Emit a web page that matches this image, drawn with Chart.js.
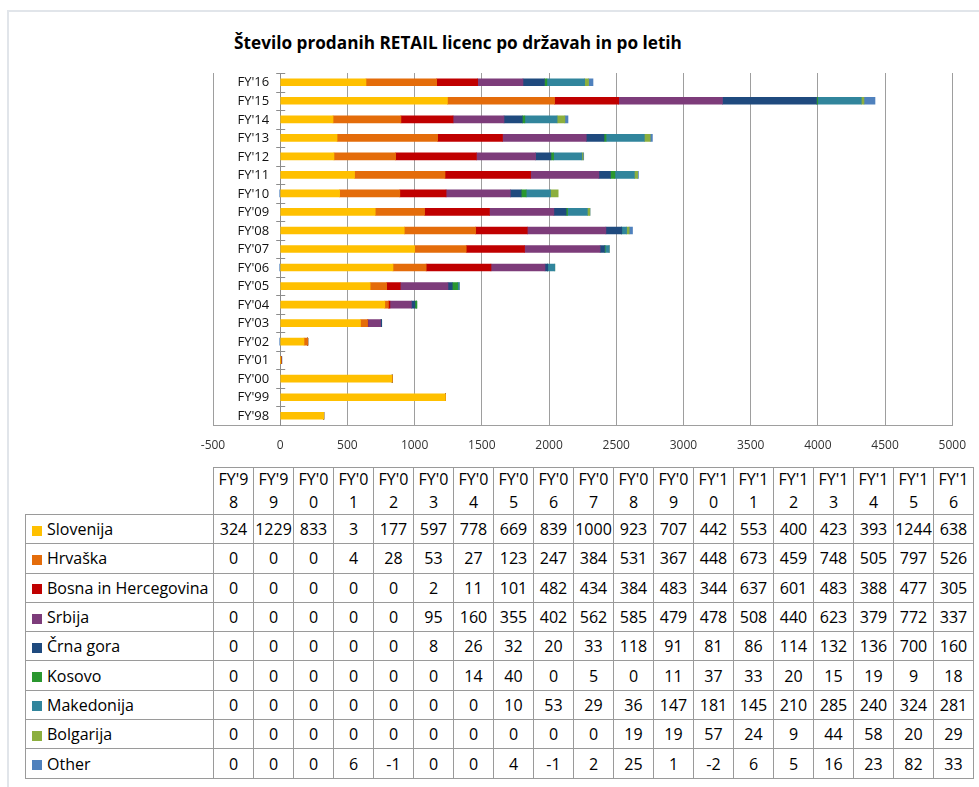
<!DOCTYPE html>
<html>
<head>
<meta charset="utf-8">
<script src="https://cdn.jsdelivr.net/npm/chart.js@4.4.1/dist/chart.umd.min.js"></script>
<style>
  body { margin: 0; background: #fff; font-family: "Open Sans", sans-serif; }
  #frame { position: absolute; left: 7px; top: 10px; width: 1000px; height: 800px;
           border-left: 2px solid #e1e5ea; border-top: 2px solid #e1e5ea; }
  #title { position: absolute; left: 0; width: 916px; top: 31px; line-height: 23px;
           text-align: center; font-weight: bold; font-size: 17.2px; color: #000; }
  #chart { position: absolute; left: 0; top: 0; }
  #tbl { position: absolute; left: 25px; top: 467px; border-collapse: collapse;
         table-layout: fixed; font-size: 16px; color: #000; }
  #tbl td { border: 1px solid #9a9a9a; padding: 0; text-align: center; white-space: nowrap; overflow: hidden; }
  #tbl tr.head td { height: 45px; line-height: 23px; }
  #tbl tr.row td { height: 28.3px; line-height: 28px; }
  #tbl td.corner { border: none; }
  #tbl td.name { text-align: left; }
  .sw { display: inline-block; width: 10px; height: 10px; margin: 0 5px 0 6px; vertical-align: -0.5px; }
</style>
</head>
<body>
<div id="frame"></div>
<div id="title">Število prodanih RETAIL licenc po državah in po letih</div>
<canvas id="chart" width="979" height="460"></canvas>
<table id="tbl"></table>
<script>
const years = ["FY'98", "FY'99", "FY'00", "FY'01", "FY'02", "FY'03", "FY'04", "FY'05", "FY'06", "FY'07",
               "FY'08", "FY'09", "FY'10", "FY'11", "FY'12", "FY'13", "FY'14", "FY'15", "FY'16"];

const slovenija  = [324, 1229, 833, 3, 177, 597, 778, 669, 839, 1000, 923, 707, 442, 553, 400, 423, 393, 1244, 638];
const hrvaska    = [0, 0, 0, 4, 28, 53, 27, 123, 247, 384, 531, 367, 448, 673, 459, 748, 505, 797, 526];
const bih        = [0, 0, 0, 0, 0, 2, 11, 101, 482, 434, 384, 483, 344, 637, 601, 483, 388, 477, 305];
const srbija     = [0, 0, 0, 0, 0, 95, 160, 355, 402, 562, 585, 479, 478, 508, 440, 623, 379, 772, 337];
const crnaGora   = [0, 0, 0, 0, 0, 8, 26, 32, 20, 33, 118, 91, 81, 86, 114, 132, 136, 700, 160];
const kosovo     = [0, 0, 0, 0, 0, 0, 14, 40, 0, 5, 0, 11, 37, 33, 20, 15, 19, 9, 18];
const makedonija = [0, 0, 0, 0, 0, 0, 0, 10, 53, 29, 36, 147, 181, 145, 210, 285, 240, 324, 281];
const bolgarija  = [0, 0, 0, 0, 0, 0, 0, 0, 0, 0, 19, 19, 57, 24, 9, 44, 58, 20, 29];
const other      = [0, 0, 0, 6, -1, 0, 0, 4, -1, 2, 25, 1, -2, 6, 5, 16, 23, 82, 33];

const seriesNames = ["Slovenija", "Hrvaška", "Bosna in Hercegovina", "Srbija", "Črna gora",
                     "Kosovo", "Makedonija", "Bolgarija", "Other"];
const seriesValues = [slovenija, hrvaska, bih, srbija, crnaGora, kosovo, makedonija, bolgarija, other];
const seriesColors = ["#FFC000", "#E46C0A", "#C00000", "#7D3C7A", "#1F4A7E",
                      "#2A972F", "#31859C", "#8CAF3E", "#4F81BD"];

const xMin = -500, xMax = 5000, xStep = 500;

// Excel style category axis at x = 0: cross tick marks and labels left of it
const catAxis = {
  id: "catAxis",
  afterDraw(chart) {
    const { ctx, scales: { x, y } } = chart;
    const x0 = x.getPixelForValue(0);
    const band = Math.abs(y.getPixelForValue(1) - y.getPixelForValue(0));
    ctx.save();
    ctx.strokeStyle = "#8c8c8c";
    ctx.lineWidth = 1;
    for (let i = 0; i < years.length; i++) {
      const yy = Math.round(y.getPixelForValue(i) - band / 2) + 0.5;
      ctx.beginPath();
      ctx.moveTo(x0 - 4, yy);
      ctx.lineTo(x0 + 5, yy);
      ctx.stroke();
    }
    ctx.fillStyle = "#111";
    ctx.font = "13px 'Open Sans'";
    ctx.textAlign = "right";
    ctx.textBaseline = "middle";
    for (let i = 0; i < years.length; i++) {
      ctx.fillText(y.getLabelForValue(i), x0 - 11, y.getPixelForValue(i) + 0.5);
    }
    ctx.restore();
  }
};

new Chart(document.getElementById("chart"), {
  type: "bar",
  data: {
    labels: years,
    datasets: seriesNames.map((name, i) => ({
      label: name,
      data: seriesValues[i],
      backgroundColor: seriesColors[i],
      borderWidth: 0,
      barThickness: 7,
    })),
  },
  options: {
    indexAxis: "y",
    responsive: false,
    animation: false,
    layout: { padding: { left: 213, right: 17, top: 73, bottom: 0 } },
    plugins: {
      legend: { display: false },
      tooltip: { enabled: false },
      title: { display: false },
    },
    scales: {
      x: {
        stacked: true,
        min: xMin,
        max: xMax,
        ticks: { stepSize: xStep, padding: 13, color: "#333",
                 font: { family: "Open Sans", size: 12 },
                 callback: v => String(v) },
        grid: { color: "#9e9e9e", drawTicks: false },
        border: { display: true, color: "#9e9e9e" },
        afterFit(s) { s.height = 35; },
      },
      y: {
        stacked: true,
        reverse: true,
        position: { x: 0 },
        ticks: { display: false, autoSkip: false },
        grid: { drawOnChartArea: false, drawTicks: false },
        border: { display: true, color: "#8c8c8c" },
      },
    },
  },
  plugins: [catAxis],
});

// data table under the chart
const tbl = document.getElementById("tbl");
let html = '<colgroup><col style="width:188px">' + years.map(() => '<col style="width:40px">').join("") + "</colgroup>";
html += '<tr class="head"><td class="corner"></td>' +
  years.map(l => "<td>" + l.slice(0, 4) + "<br>" + l.slice(4) + "</td>").join("") + "</tr>";
seriesNames.forEach((name, i) => {
  html += '<tr class="row"><td class="name"><span class="sw" style="background:' + seriesColors[i] + '"></span>' + name + "</td>" +
    seriesValues[i].map(v => "<td>" + v + "</td>").join("") + "</tr>";
});
tbl.innerHTML = html;
</script>
</body>
</html>
